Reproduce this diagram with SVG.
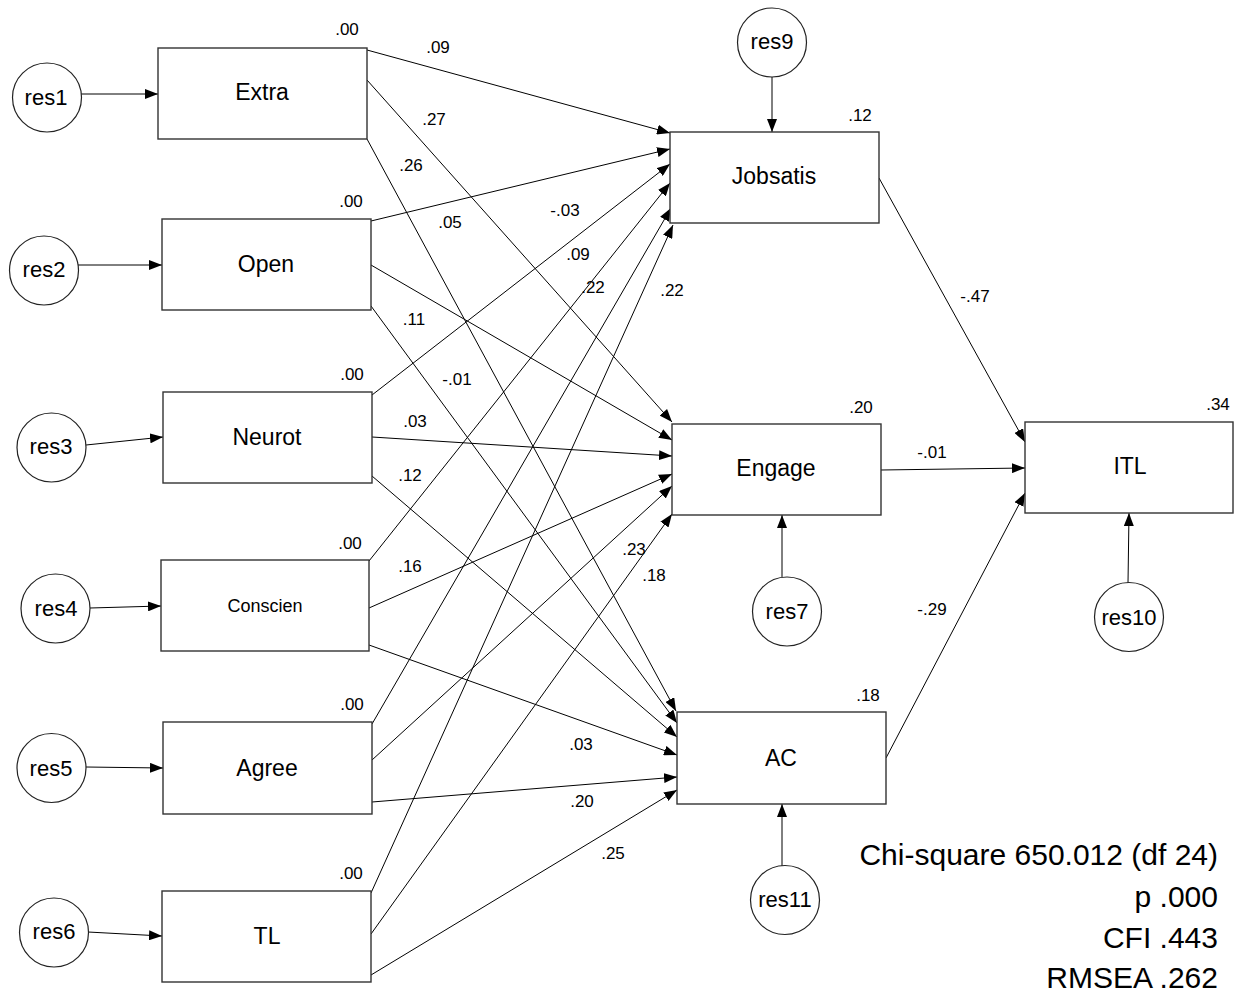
<svg xmlns="http://www.w3.org/2000/svg" width="1236" height="992" viewBox="0 0 1236 992">
<style>
  .box { fill: #fff; stroke: #333; stroke-width: 1.4; }
  .res { fill: #fff; stroke: #222; stroke-width: 1.2; }
  .edge { stroke: #000; stroke-width: 1; fill: none; marker-end: url(#ah); }
  text { font-family: "Liberation Sans", Arial, sans-serif; fill: #000; }
  .lbl { font-size: 23px; text-anchor: middle; }
  .rl { font-size: 22px; text-anchor: middle; }
  .sm { font-size: 17px; text-anchor: middle; }
  .fit { font-size: 30px; text-anchor: end; }
</style>
<defs>
  <marker id="ah" viewBox="0 0 13 10" refX="13" refY="5" markerWidth="13" markerHeight="10" markerUnits="userSpaceOnUse" orient="auto">
    <path d="M0,0 L13,5 L0,10 z" fill="#000"/>
  </marker>
</defs>

<g id="connectors">
  <!-- residuals -->
  <line class="edge" x1="81" y1="94" x2="158" y2="94"/>
  <line class="edge" x1="78" y1="265" x2="162" y2="265"/>
  <line class="edge" x1="86" y1="445" x2="163" y2="437"/>
  <line class="edge" x1="90" y1="608" x2="161" y2="606"/>
  <line class="edge" x1="86" y1="767" x2="163" y2="768"/>
  <line class="edge" x1="88" y1="932" x2="162" y2="936"/>
  <line class="edge" x1="772" y1="77" x2="772" y2="132"/>
  <line class="edge" x1="782" y1="577" x2="782" y2="515"/>
  <line class="edge" x1="782" y1="866" x2="782" y2="804"/>
  <line class="edge" x1="1128" y1="583" x2="1129" y2="513"/>
  <!-- to Jobsatis -->
  <line class="edge" x1="367" y1="50" x2="670" y2="133"/>
  <line class="edge" x1="371" y1="221" x2="670" y2="149"/>
  <line class="edge" x1="372" y1="395" x2="670" y2="164"/>
  <line class="edge" x1="369" y1="561" x2="670" y2="183"/>
  <line class="edge" x1="372" y1="724" x2="671" y2="208"/>
  <line class="edge" x1="371" y1="893" x2="673" y2="225"/>
  <!-- to Engage -->
  <line class="edge" x1="367" y1="80" x2="672" y2="422"/>
  <line class="edge" x1="371" y1="265" x2="672" y2="440"/>
  <line class="edge" x1="372" y1="437" x2="672" y2="456"/>
  <line class="edge" x1="369" y1="608" x2="672" y2="474"/>
  <line class="edge" x1="372" y1="760" x2="672" y2="486"/>
  <line class="edge" x1="371" y1="934" x2="672" y2="514"/>
  <!-- to AC -->
  <line class="edge" x1="367" y1="139" x2="676" y2="711"/>
  <line class="edge" x1="371" y1="306" x2="677" y2="723"/>
  <line class="edge" x1="372" y1="476" x2="677" y2="737"/>
  <line class="edge" x1="369" y1="645" x2="677" y2="755"/>
  <line class="edge" x1="372" y1="802" x2="677" y2="777"/>
  <line class="edge" x1="371" y1="975" x2="677" y2="790"/>
  <!-- to ITL -->
  <line class="edge" x1="879" y1="178" x2="1025" y2="442"/>
  <line class="edge" x1="881" y1="470" x2="1025" y2="468"/>
  <line class="edge" x1="886" y1="758" x2="1025" y2="493"/>
  <!-- path coefficients -->
  <text class="sm" x="438" y="53">.09</text>
  <text class="sm" x="434" y="125">.27</text>
  <text class="sm" x="411" y="171">.26</text>
  <text class="sm" x="450" y="228">.05</text>
  <text class="sm" x="565" y="216">-.03</text>
  <text class="sm" x="578" y="260">.09</text>
  <text class="sm" x="593" y="293">.22</text>
  <text class="sm" x="672" y="296">.22</text>
  <text class="sm" x="414" y="325">.11</text>
  <text class="sm" x="457" y="385">-.01</text>
  <text class="sm" x="415" y="427">.03</text>
  <text class="sm" x="410" y="481">.12</text>
  <text class="sm" x="410" y="572">.16</text>
  <text class="sm" x="634" y="555">.23</text>
  <text class="sm" x="654" y="581">.18</text>
  <text class="sm" x="581" y="750">.03</text>
  <text class="sm" x="582" y="807">.20</text>
  <text class="sm" x="613" y="859">.25</text>
  <text class="sm" x="975" y="302">-.47</text>
  <text class="sm" x="932" y="458">-.01</text>
  <text class="sm" x="932" y="615">-.29</text>
</g>

<g id="res1"><circle class="res" cx="47" cy="97.5" r="34.5"/><text class="rl" x="46" y="105">res1</text></g>
<g id="res2"><circle class="res" cx="44" cy="270.5" r="34.5"/><text class="rl" x="44" y="277">res2</text></g>
<g id="res3"><circle class="res" cx="51.5" cy="447.5" r="34.5"/><text class="rl" x="51" y="454">res3</text></g>
<g id="res4"><circle class="res" cx="55.5" cy="608.5" r="34.5"/><text class="rl" x="56" y="616">res4</text></g>
<g id="res5"><circle class="res" cx="51.5" cy="768" r="34.5"/><text class="rl" x="51" y="776">res5</text></g>
<g id="res6"><circle class="res" cx="54" cy="932.5" r="34.5"/><text class="rl" x="54" y="939">res6</text></g>
<g id="res9"><circle class="res" cx="772" cy="42.5" r="34.5"/><text class="rl" x="772" y="49">res9</text></g>
<g id="res7"><circle class="res" cx="787" cy="611.5" r="34.5"/><text class="rl" x="787" y="619">res7</text></g>
<g id="res10"><circle class="res" cx="1129" cy="617" r="34.5"/><text class="rl" x="1129" y="625">res10</text></g>
<g id="res11"><circle class="res" cx="785" cy="900" r="34.5"/><text class="rl" x="785" y="907">res11</text></g>

<g id="Extra"><rect class="box" x="158" y="48" width="209" height="91"/><text class="lbl" x="262" y="100">Extra</text><text class="sm" x="347" y="35">.00</text></g>
<g id="Open"><rect class="box" x="162" y="219" width="209" height="91"/><text class="lbl" x="266" y="272">Open</text><text class="sm" x="351" y="207">.00</text></g>
<g id="Neurot"><rect class="box" x="163" y="392" width="209" height="91"/><text class="lbl" x="267" y="445">Neurot</text><text class="sm" x="352" y="380">.00</text></g>
<g id="Conscien"><rect class="box" x="161" y="560" width="208" height="91"/><text x="265" y="611.5" style="font-size:18px;text-anchor:middle">Conscien</text><text class="sm" x="350" y="549">.00</text></g>
<g id="Agree"><rect class="box" x="163" y="722" width="209" height="92"/><text class="lbl" x="267" y="776">Agree</text><text class="sm" x="352" y="710">.00</text></g>
<g id="TL"><rect class="box" x="162" y="891" width="209" height="91"/><text class="lbl" x="267" y="944">TL</text><text class="sm" x="351" y="879">.00</text></g>
<g id="Jobsatis"><rect class="box" x="670" y="132" width="209" height="91"/><text class="lbl" x="774" y="184">Jobsatis</text><text class="sm" x="860" y="121">.12</text></g>
<g id="Engage"><rect class="box" x="672" y="424" width="209" height="91"/><text class="lbl" x="776" y="476">Engage</text><text class="sm" x="861" y="413">.20</text></g>
<g id="AC"><rect class="box" x="677" y="712" width="209" height="92"/><text class="lbl" x="781" y="766">AC</text><text class="sm" x="868" y="701">.18</text></g>
<g id="ITL"><rect class="box" x="1025" y="422" width="208" height="91"/><text class="lbl" x="1130" y="474">ITL</text><text class="sm" x="1218" y="410">.34</text></g>

<g id="fit">
  <text class="fit" x="1218" y="865">Chi-square 650.012 (df 24)</text>
  <text class="fit" x="1218" y="907">p .000</text>
  <text class="fit" x="1218" y="948">CFI .443</text>
  <text class="fit" x="1218" y="988">RMSEA .262</text>
</g>
</svg>
